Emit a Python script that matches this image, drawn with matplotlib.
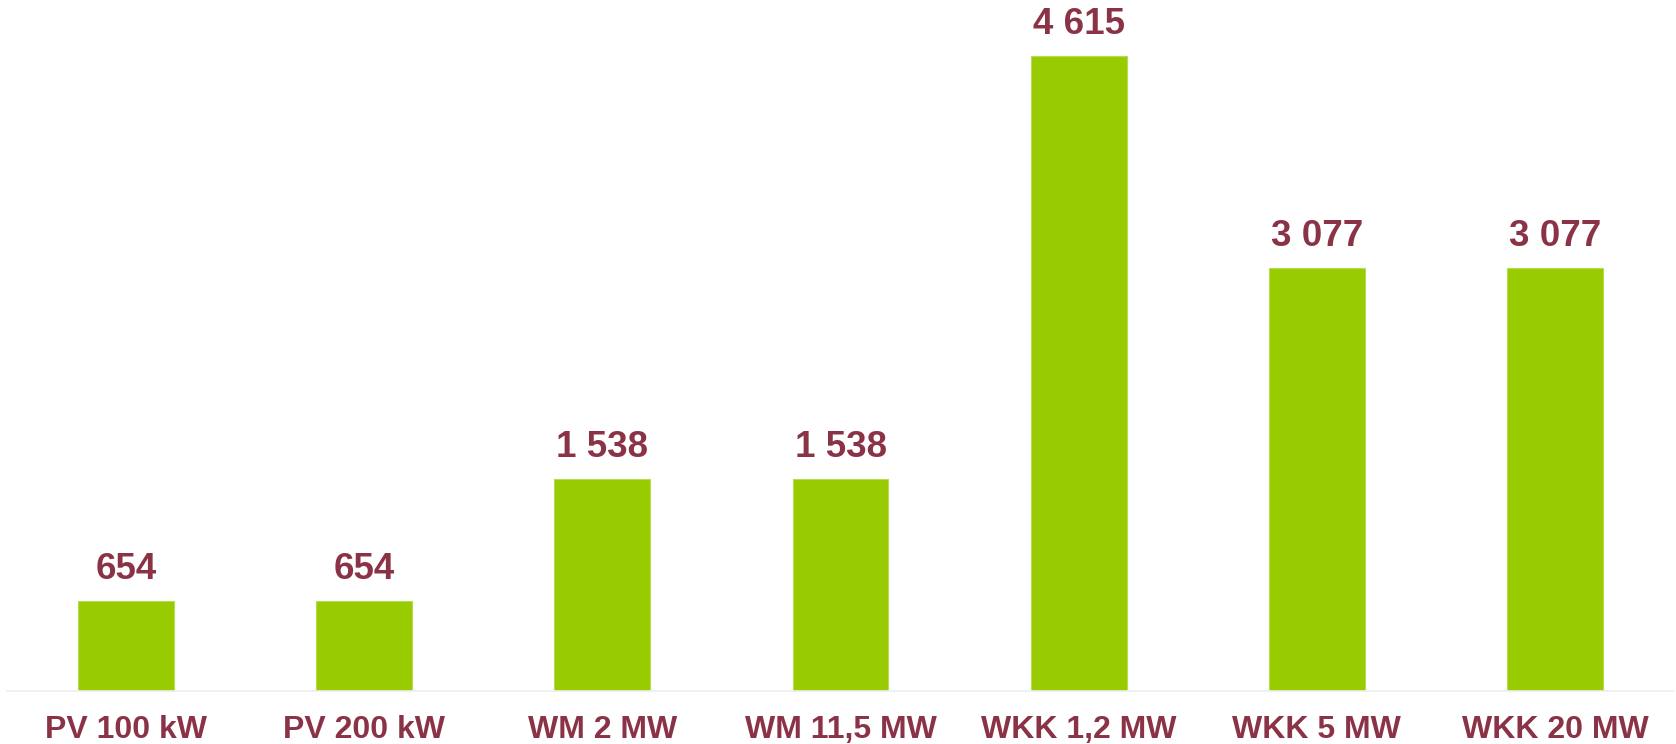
import matplotlib
matplotlib.use("Agg")
import matplotlib.pyplot as plt

categories = ["PV 100 kW", "PV 200 kW", "WM 2 MW", "WM 11,5 MW", "WKK 1,2 MW", "WKK 5 MW", "WKK 20 MW"]
values = [654, 654, 1538, 1538, 4615, 3077, 3077]
value_labels = ["654", "654", "1 538", "1 538", "4 615", "3 077", "3 077"]

GREEN = "#99CC00"
MAROON = "#8B3346"

plt.rcParams['font.family'] = ['Liberation Sans', 'DejaVu Sans']

W, H = 1676, 744
fig = plt.figure(figsize=(W / 100, H / 100), dpi=100)
ax = fig.add_axes([7 / W, 53 / H, 1667 / W, 691 / H])

x = range(len(categories))
bars = ax.bar(x, values, width=0.403, color=GREEN, edgecolor="#b5dc55", linewidth=0.8, zorder=2)

ax.set_xlim(-0.5, len(categories) - 0.5)
ax.set_ylim(0, 5022)

for xi, v, lab in zip(x, values, value_labels):
    ax.annotate(lab, (xi, v), xytext=(0, 10), textcoords="offset points",
                ha="center", va="bottom", fontsize=26.5, fontweight="bold", color=MAROON)

ax.set_xticks(list(x))
ax.set_xticklabels(categories, fontsize=23, fontweight="bold", color=MAROON)
ax.tick_params(axis="x", length=0, pad=17)
ax.set_yticks([])
for s in ["top", "right", "left"]:
    ax.spines[s].set_visible(False)
ax.spines["bottom"].set_color("#eeeeee")
ax.spines["bottom"].set_linewidth(1.2)

fig.savefig("out.png", dpi=100)
